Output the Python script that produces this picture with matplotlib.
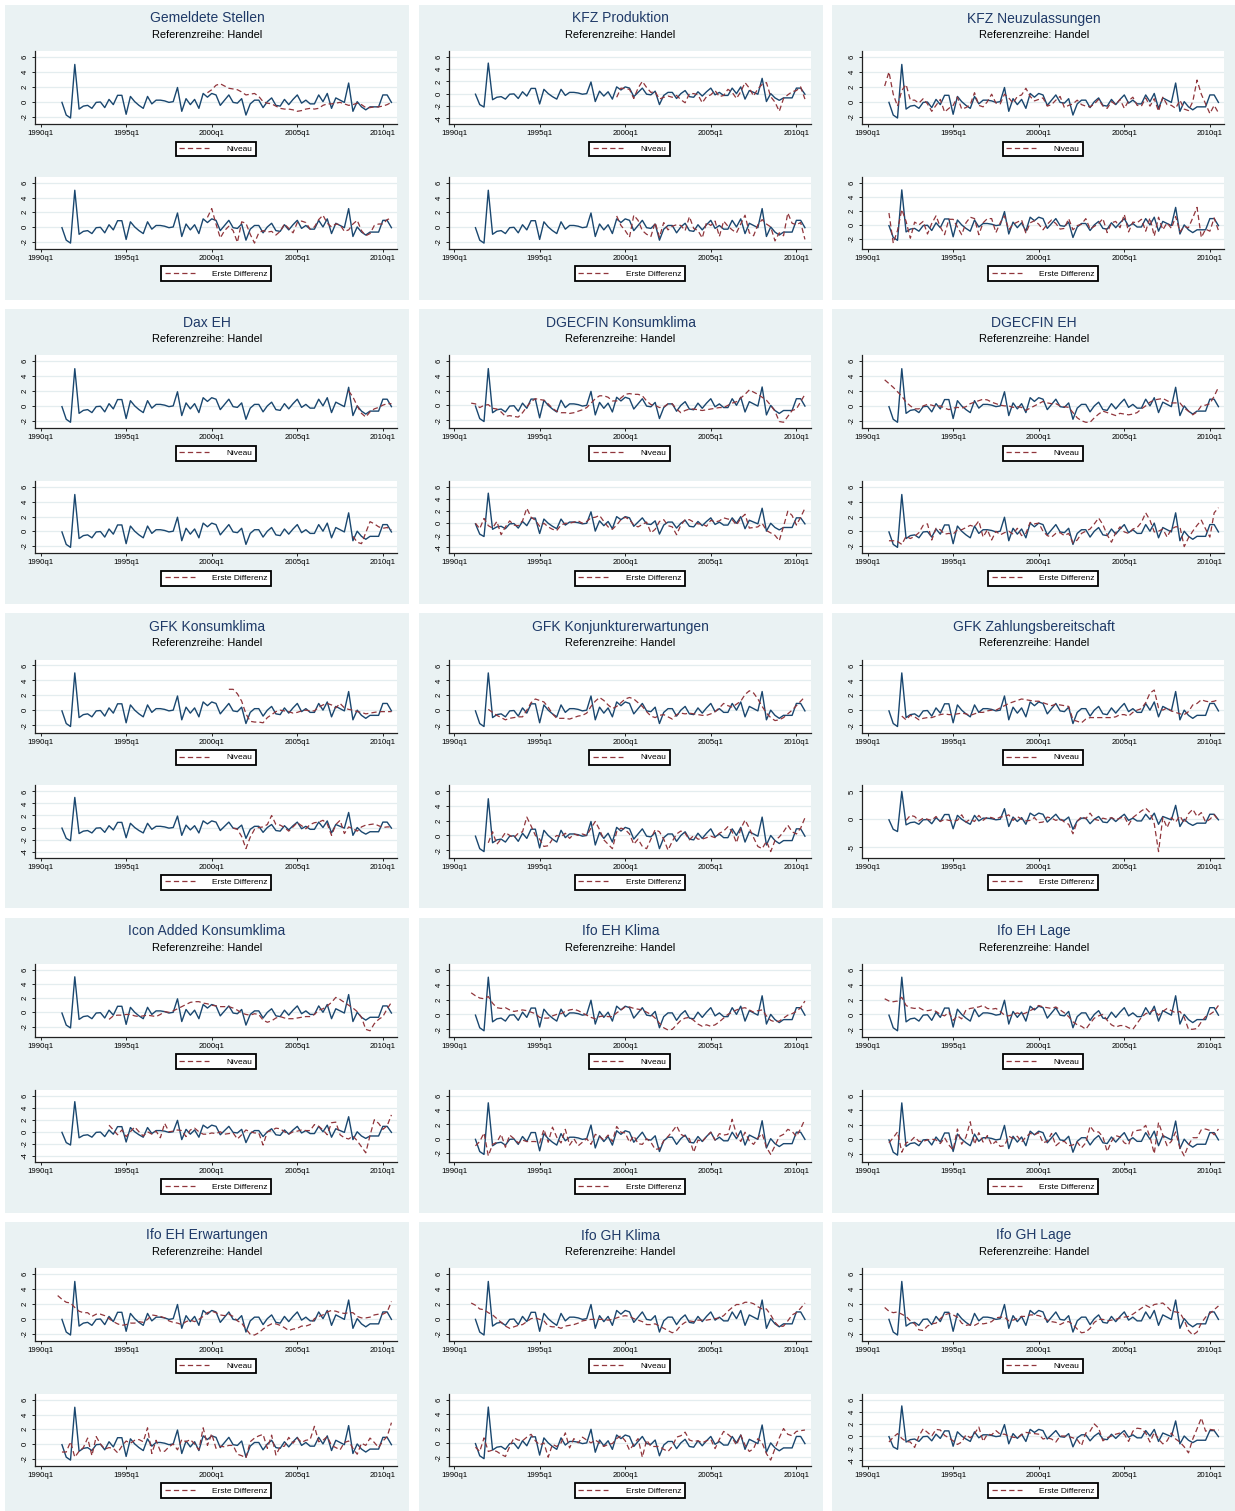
import matplotlib
matplotlib.use("Agg")
import matplotlib.pyplot as plt
from matplotlib.patches import Rectangle
from matplotlib.lines import Line2D

plt.rcParams['font.family'] = ['Liberation Sans', 'DejaVu Sans']

# ---------------- data ----------------
x_tick_labels = ["1990q1", "1995q1", "2000q1", "2005q1", "2010q1"]
subtitle = "Referenzreihe: Handel"
legend_top = "Niveau"
legend_bottom = "Erste Differenz"

handel_start = "1991q2"
handel = [-0.1, -1.8, -2.2, 5.0, -1.0, -0.6, -0.5, -0.9, -0.1, -0.05,
          -0.8, 0.3, -0.4, 0.85, 0.85, -1.7, 0.7, 0.0, -0.5, -0.9,
          0.7, -0.3, 0.2, 0.2, 0.1, -0.1, 0.0, 1.9, -1.3, 0.4,
          -0.4, 0.3, -0.9, 1.1, 0.6, 1.1, 0.9, -0.5, 0.2, 0.9,
          -0.1, -0.2, 0.4, -1.8, -0.3, 0.2, 0.2, -0.8, 0.0, 0.5,
          -0.5, -0.6, 0.3, -0.4, 0.3, 0.9, -0.2, 0.2, -0.3, -0.3,
          0.9, 0.0, 1.1, -0.9, 0.5, 0.2, -0.1, 2.5, -1.3, 0.0,
          -0.7, -1.1, -0.7, -0.7, -0.7, 0.9, 0.9, -0.1]

gem_niv_start = "1999q4"
gem_niv = [1.2, 1.6, 2.2, 2.4, 2.1, 1.8, 1.7, 1.6, 1.3, 0.9,
           1.0, 1.1, 0.7, 0.0, -0.2, -0.3, -0.6, -0.9, -1.0, -1.0,
           -1.1, -1.3, -1.2, -1.0, -0.9, -1.0, -0.9, -0.5, -0.3, -0.3,
           -0.2, -0.1, -0.3, -0.5, -0.4, -0.2, -0.4, -0.8, -0.8, -0.7,
           -0.7, -0.6, -0.4, -0.1]
gem_diff_start = "1999q4"
gem_diff = [1.3, 2.5, 0.4, -1.5, -0.5, 0.1, -0.5, -2.1, 0.7, 0.5,
            -1.0, -2.2, -0.8, -0.5, -0.7, -0.6, -1.1, -0.6, 0.4, -0.2,
            -0.8, 0.6, 0.8, 0.6, -0.3, 0.0, 1.0, 1.6, 0.5, 0.0,
            0.4, 0.3, -0.6, -0.4, 0.4, 0.9, -0.5, -1.2, -0.9, 0.2,
            0.4, 0.4, 1.0, 1.2]

kfzp_niv_start = "1999q3"
kfzp_niv = [-0.6, 0.9, 0.8, 0.7, -0.8, 0.9, 2.0, 1.0, 0.2, 0.3,
            -0.9, -0.6, -0.4, -0.6, -0.3, -1.0, -1.5, 0.0, 0.0, -0.2,
            -1.5, -0.5, -0.2, 0.5, -0.5, -0.3, 0.7, 0.2, -0.8, 0.3,
            1.8, 0.9, -0.4, 0.8, 1.5, 1.8, -0.5, -1.4, -2.9, -0.8,
            -0.2, 0.3, 0.5, 1.1, -0.9]
kfzp_diff_start = "1999q3"
kfzp_diff = [1.5, 0.2, -0.5, -1.4, 1.6, 0.9, -0.5, -1.0, -1.3, 0.6,
             -1.4, 0.6, -0.4, 0.1, 0.3, 0.2, -0.5, 1.4, -0.2, -0.5,
             -1.5, 0.6, 0.2, 0.8, -1.3, 0.8, 0.1, -0.4, -0.8, 0.4,
             1.6, -0.8, -1.2, 0.3, 1.0, 0.4, 0.0, -1.9, -0.8, -1.2,
             1.9, 0.5, 0.3, 0.6, -1.7]

kfzn_niv_start = "1991q1"
kfzn_niv = [2.1, 4.0, 1.0, -0.6, 1.5, 2.3, 0.2, 0.2, -0.2, 0.4,
            -0.3, -1.3, -0.5, 0.3, -1.4, -0.9, -0.5, 0.6, -1.0, -0.8,
            -0.4, 1.2, -0.5, -0.7, 0.0, 1.0, -0.2, -0.3, 1.0, 0.5,
            -0.2, 0.7, 0.9, 1.8, 0.7, 0.1, 0.3, 0.5, -0.6, -0.4,
            0.2, 0.7, -0.8, -0.5, -0.3, 0.2, -0.4, -0.6, -0.7, -0.3,
            0.3, -0.6, -0.9, 0.0, -0.4, 0.3, -0.9, 0.1, 0.6, -0.5,
            -0.6, 0.5, -0.6, 0.4, -1.3, 0.6, -0.4, -0.5, -0.9, 0.2,
            -1.0, -1.2, 0.0, 2.9, 1.0, -0.3, -1.6, -0.5, -1.5]
kfzn_diff_start = "1991q2"
kfzn_diff = [1.7, -2.6, -0.8, 2.2, 0.5, -1.9, 0.4, 0.0, 0.5, -1.3,
             0.2, 1.3, -0.3, -1.4, 0.8, 0.8, -0.3, -1.4, 0.3, 1.1,
             0.9, -1.4, 0.3, 0.9, 0.9, -1.1, 0.3, 1.3, -0.7, 0.1,
             0.4, 0.7, -1.2, 0.3, 0.6, 0.1, -0.7, 0.1, 0.7, 0.2,
             -0.6, -0.5, 0.9, -0.7, -0.1, 0.1, 0.9, -0.6, -0.2, 0.2,
             0.9, -1.1, 0.3, 0.5, -0.4, 1.5, -1.0, 0.4, 0.3, 0.8,
             -0.9, 1.0, -1.6, 1.1, -0.7, 0.3, -0.5, 1.2, -1.0, -0.2,
             -0.4, 1.0, 2.5, -1.8, -0.6, -0.9, 1.0, -0.8]

dax_niv_start = "2008q1"
dax_niv = [2.0, 1.2, 0.0, -1.0, -1.5, -0.8, -0.4, -0.2, 0.1, 0.3, 0.3]
dax_diff_start = "2008q2"
dax_diff = [-0.7, -1.5, -1.7, -0.2, 1.3, 1.0, 0.6, 0.4, 0.5, 0.2]

dgk_niv_start = "1991q1"
dgk_niv = [0.3, 0.2, -0.3, 0.0, 0.1, -0.4, -0.5, -0.9, -1.5, -1.4,
           -1.5, -1.6, -1.0, -0.2, 0.5, 0.9, 0.8, 0.7, 0.2, -0.4,
           -0.8, -1.0, -1.0, -1.1, -1.0, -0.8, -0.6, -0.3, 0.3, 0.9,
           1.3, 1.3, 1.1, 0.6, 0.6, 1.0, 1.5, 1.6, 1.5, 1.5,
           1.3, 0.6, 0.1, 0.0, -0.3, -0.2, 0.2, 0.2, -0.5, -1.0,
           -0.7, -0.5, -0.5, -0.6, -0.7, -0.6, -0.5, -0.4, -0.3, -0.3,
           0.0, 0.3, 0.5, 1.0, 1.5, 2.1, 1.8, 1.5, 1.1, 0.7,
           0.0, -0.8, -2.2, -2.3, -1.5, -0.7, -0.5, 0.5, 1.5]
dgk_diff_start = "1991q2"
dgk_diff = [0.0, -0.9, 0.8, -0.4, -0.8, 0.3, -1.9, -0.6, 0.4, -0.3,
            -0.4, 0.4, 2.5, 1.0, 0.5, -0.5, 0.0, -0.6, -1.0, -1.2,
            -0.3, 0.0, 0.0, 0.2, 0.4, 0.0, 0.3, 0.9, 1.0, 1.3,
            0.3, -0.6, -1.0, -0.3, 0.6, 1.0, 0.6, -0.3, -0.6, -0.2,
            0.2, -1.6, -1.0, 0.3, 0.6, -0.4, -0.6, -1.9, -0.3, 0.6,
            0.6, 0.2, -0.1, -0.1, -0.5, 0.5, 0.2, 0.4, 0.9, 0.7,
            0.6, -0.3, 0.8, 1.5, -0.8, -0.7, -0.6, 0.0, -1.2, -1.6,
            -2.0, -2.9, -0.5, 2.0, 1.3, -0.3, 1.0, 2.5]

dge_niv_start = "1991q1"
dge_niv = [3.5, 3.0, 2.5, 1.9, 1.3, 0.5, 0.0, -0.4, -0.4, 0.0,
           0.2, 0.1, -0.1, 0.0, -0.3, -0.5, -0.3, -0.2, -0.3, -0.1,
           0.3, 0.5, 0.7, 0.9, 0.8, 0.5, 0.3, 0.1, 0.0, 0.0,
           -0.2, -0.1, -0.2, -0.6, -0.3, 0.0, 0.3, 0.6, 0.4, 0.3,
           0.3, 0.0, -0.1, -0.2, -0.9, -1.6, -2.0, -2.2, -2.2, -1.6,
           -1.1, -0.7, -0.9, -1.1, -1.3, -1.0, -1.1, -1.2, -1.1, -0.9,
           -0.4, 0.0, 0.5, 0.8, 0.9, 1.0, 0.7, 0.4, 0.4, 0.4,
           -0.3, -0.7, -1.2, -0.8, 0.0, 0.1, 0.3, 1.3, 2.5]
dge_diff_start = "1991q2"
dge_diff = [-1.3, -1.3, -1.4, -1.8, -0.7, -1.0, -0.7, -0.2, 0.8, 1.0,
            -1.2, 0.4, 0.2, -0.4, -0.3, -0.4, 0.2, 0.2, 0.5, 0.8,
            0.6, 1.4, -0.8, 0.2, -1.2, 0.0, -0.5, -0.2, 0.0, -0.4,
            0.4, -0.6, -0.3, 1.2, 1.0, 1.1, 0.0, -0.6, -0.8, -0.3,
            -0.2, -0.6, -0.3, -1.6, -1.2, -0.3, 0.0, 0.3, 1.0, 1.8,
            0.9, -0.5, -1.5, -0.2, 0.6, -0.1, -0.3, 0.3, 0.5, 1.2,
            2.5, 1.5, -0.1, 0.0, 0.3, -0.8, 0.3, 0.6, 0.6, -2.1,
            -0.9, 0.0, 0.8, 1.5, 0.3, -0.8, 2.5, 3.2]

gfkk_niv_start = "2001q1"
gfkk_niv = [2.8, 2.8, 2.2, 1.2, -0.5, -1.5, -1.6, -1.6, -1.7, -1.0,
            -0.6, -0.2, 0.0, -0.1, -0.2, -0.4, -0.3, -0.1, 0.0, -0.1,
            -0.1, 0.4, 0.7, 0.9, 0.7, 0.3, 0.9, 0.3, 0.1, 0.0,
            -0.2, -0.3, -0.5, -0.4, -0.3, -0.2, -0.2, -0.2, -0.2]
gfkk_diff_start = "2001q2"
gfkk_diff = [-0.1, -0.3, -1.5, -3.5, -1.6, -0.3, 0.0, 0.1, 0.5, 2.0,
             0.5, 0.4, 0.0, -0.6, 0.1, 0.8, 0.3, -0.2, 0.5, 0.8,
             0.9, 1.2, 0.6, -1.3, 0.5, 1.2, -1.0, 0.1, -0.2, -0.6,
             0.1, 0.4, 0.5, 0.6, 0.3, 0.0, 0.1, 0.1]

gfkj_niv_start = "1992q1"
gfkj_niv = [0.1, -0.3, -0.7, -1.0, -1.3, -1.1, -1.0, -0.9, -0.9, 0.0,
            1.0, 1.5, 1.3, 1.1, 0.4, -0.5, -1.1, -1.1, -1.1, -1.2,
            -1.0, -0.8, -0.7, -0.4, 0.5, 1.2, 1.7, 1.3, 0.7, 0.2,
            0.5, 1.0, 1.5, 1.7, 1.5, 1.0, 0.5, -0.2, -0.8, -1.0,
            -0.7, -0.6, -0.9, -1.2, -0.6, -0.4, -0.5, -0.4, -0.5, -0.6,
            -0.7, -0.7, -0.5, -0.2, 0.3, 0.9, 0.6, 0.4, 0.8, 1.2,
            2.1, 2.6, 2.3, 1.5, 0.5, -0.4, -1.0, -1.4, -1.3, -1.0,
            -0.5, 0.0, 0.6, 1.2, 1.8]
gfkj_diff_start = "1992q1"
gfkj_diff = [-1.0, 0.5, -1.2, -0.5, 0.4, 0.0, -0.3, 0.3, 0.5, 2.5,
             1.3, 0.0, -0.5, -1.5, -1.4, -0.5, 0.0, -0.2, 0.3, -0.4,
             0.2, 0.0, 0.2, 0.0, 1.0, 1.9, 0.8, -0.6, -1.2, -1.8,
             0.5, 1.0, 0.8, 0.2, -1.2, -0.5, -1.5, -1.8, -0.5, 0.8,
             0.5, -0.5, -2.0, -0.8, 0.2, 0.6, 0.3, -0.6, 0.0, -0.5,
             -0.5, -0.3, -0.1, -0.3, 0.3, 0.6, 1.2, 0.5, -1.0, 0.9,
             2.1, 1.0, -0.3, -1.5, -1.8, -0.8, -2.2, -0.7, -0.2, 0.5,
             1.4, 0.5, 0.2, 1.0, 2.4]

gfkz_niv_start = "1992q1"
gfkz_niv = [-0.8, -1.3, -0.7, -0.9, -1.3, -1.1, -1.0, -1.0, -0.8, -0.6,
            -0.5, -0.6, -0.6, -0.5, -0.4, -0.5, -0.7, -0.5, -0.3, -0.3,
            -0.1, 0.0, 0.0, 0.3, 0.6, 0.9, 1.1, 1.3, 1.5, 1.4,
            1.3, 1.2, 1.2, 1.0, 0.8, 0.6, 0.8, 0.7, 0.6, 0.5,
            -1.3, -1.5, -1.7, -1.2, -1.0, -1.0, -1.0, -1.0, -1.0, -1.0,
            -0.9, -0.6, -0.6, -0.8, -0.3, 0.0, 0.2, 1.0, 2.3, 2.7,
            0.3, 0.0, 0.3, -0.1, -0.3, -0.5, -0.6, -0.2, 0.7, 0.9,
            1.4, 1.2, 1.1, 1.2, 1.4]
gfkz_diff_start = "1992q2"
gfkz_diff = [-0.2, 0.7, 0.5, -0.3, 0.2, 0.0, -0.2, 0.5, -0.4, 0.0,
             -0.2, -0.3, -0.2, 0.8, -0.5, 0.0, -0.4, 0.7, -0.2, 0.4,
             0.3, 0.0, 0.4, 0.5, 0.8, -0.2, 0.5, 0.0, -0.3, -0.2,
             0.3, -0.6, -0.5, 0.4, 0.2, -0.2, 0.1, -0.5, -0.9, -2.6,
             -0.4, 0.5, 0.1, 1.1, 0.0, -0.2, 0.2, 0.0, 0.3, -0.1,
             0.2, 0.5, -1.0, 0.3, 0.9, 1.5, 2.0, 1.2, -0.8, -5.8,
             0.3, -1.5, 0.3, -0.5, 0.6, -0.7, 1.0, 1.8, 0.5, 1.2,
             -0.5, 0.0, 0.8, -0.2]

icon_niv_start = "1994q1"
icon_niv = [-1.0, -0.5, -0.4, -0.4, -0.3, -0.3, -0.5, -0.6, -0.5, -0.4,
            -0.5, -0.6, -0.3, 0.1, 0.0, 0.2, 0.5, 0.8, 1.1, 1.4,
            1.5, 1.5, 1.3, 1.2, 1.0, 0.9, 0.8, 0.8, 0.8, 0.6,
            0.3, -0.1, -0.3, -0.4, -0.2, -0.3, -1.1, -1.4, -1.2, -0.8,
            -0.6, -0.8, -0.9, -0.9, -0.8, -0.7, -0.6, -0.6, -0.3, 0.3,
            0.5, 0.9, 1.4, 2.1, 1.8, 1.4, 1.0, 0.6, 0.1, -0.7,
            -2.4, -2.6, -1.6, -1.0, -0.6, 0.5, 1.4]
icon_diff_start = "1994q1"
icon_diff = [1.1, 0.3, -0.5, 0.3, -0.8, 0.0, 0.8, 0.0, -0.7, 0.0,
             -0.4, 0.1, -1.0, 1.4, 0.0, 0.1, 0.3, 0.2, -0.8, 0.3,
             0.6, 0.0, -0.4, -0.4, -0.2, -0.3, 0.0, -0.4, -0.3, -0.2,
             -1.2, -0.5, 0.3, 0.0, -0.2, -0.2, -2.2, 0.0, 0.2, 0.6,
             0.5, 0.0, -0.4, 0.0, 0.1, 0.3, 0.2, 0.2, 1.2, 0.9,
             0.3, -0.5, 1.5, 1.6, -0.5, -1.0, -1.2, -0.7, -1.5, -2.5,
             -3.5, -0.6, 2.0, 1.4, 0.4, 1.0, 2.8]

ifoekl_niv_start = "1991q1"
ifoekl_niv = [2.9, 2.5, 2.2, 2.1, 2.4, 1.5, 0.9, 0.8, 0.9, 0.6,
              0.4, 0.5, 0.6, 0.5, 0.3, 0.1, -0.4, -0.5, -0.5, -0.2,
              0.0, 0.1, 0.4, 0.6, 0.7, 0.5, 0.2, -0.1, -0.4, -0.6,
              -0.3, -0.2, -0.3, -0.3, 0.2, 0.6, 1.0, 1.0, 0.8, 0.7,
              0.6, 0.3, 0.0, -0.5, -1.2, -1.8, -2.1, -2.0, -1.4, -0.8,
              -0.5, -0.4, -0.8, -1.3, -1.6, -1.4, -1.6, -1.4, -1.0, -0.5,
              0.0, 0.3, 0.6, 0.8, 0.9, 0.6, 0.3, 0.5, 0.6, -0.2,
              -0.8, -1.0, -0.9, -0.5, -0.1, 0.1, 0.4, 0.9, 1.8]
ifoekl_diff_start = "1991q2"
ifoekl_diff = [-1.0, -0.4, 0.8, -2.4, -0.8, -0.5, 0.6, -1.2, 0.5, 0.0,
               -0.6, -0.2, -0.4, -0.4, -0.4, -0.6, 1.3, -0.5, 1.6, 0.2,
               -0.6, 1.3, -0.9, 0.0, -1.0, -0.5, 0.0, -0.8, 0.6, 0.3,
               -0.2, 0.5, -0.4, 1.7, 0.9, 0.8, -0.5, 0.4, -0.7, -0.8,
               0.0, -0.5, -1.5, -1.4, -0.3, 0.3, 1.0, 1.8, 0.6, 0.3,
               0.0, -1.9, -0.2, -0.4, 0.3, 0.9, -0.2, 0.7, 0.5, 0.6,
               2.7, 0.6, -0.4, 0.9, -0.3, -0.8, 0.1, 0.7, -1.2, -2.2,
               -1.0, 0.3, 0.6, 1.3, 1.0, 0.3, 1.4, 2.7]

ifoela_niv_start = "1991q1"
ifoela_niv = [2.1, 1.8, 1.7, 1.8, 2.3, 1.2, 0.9, 0.8, 0.9, 0.6,
              0.5, 0.6, 0.4, 0.0, -0.2, 0.3, -0.8, -0.2, -0.6, 0.6,
              0.8, 0.9, 1.0, 1.2, 0.8, 0.7, 0.8, 0.4, -0.1, -0.2,
              0.0, 0.2, 0.0, 0.2, 0.5, 0.8, 1.2, 1.0, 0.9, 0.8,
              1.0, 0.6, 0.2, -0.3, -1.0, -1.4, -1.6, -2.0, -1.2, -0.5,
              -0.2, 0.0, -0.8, -1.4, -1.7, -1.5, -1.5, -1.8, -2.0, -1.2,
              -0.4, 0.1, 0.3, 0.6, -0.1, 0.4, 0.8, 0.5, 0.2, 0.4,
              -0.4, -2.0, -2.0, -1.9, -1.0, -0.3, 0.0, 0.4, 1.2]
ifoela_diff_start = "1991q2"
ifoela_diff = [-0.5, 0.2, 1.0, -1.8, -0.5, -0.3, 0.3, -0.3, -0.3, -0.1,
               0.0, -0.1, -0.6, 0.2, -0.8, -1.5, 1.4, -0.7, 0.3, 2.4,
               -0.7, 0.9, -0.4, 0.5, -0.8, -0.3, -1.0, -0.9, 0.4, 0.1,
               0.4, -0.4, 0.3, 0.8, 0.6, 0.9, -0.5, -0.3, 0.8, -0.9,
               -0.4, -0.3, -0.9, -0.8, -0.4, -1.2, -0.5, 1.8, 1.0, 1.0,
               0.3, -1.7, -0.3, 0.5, 0.3, -0.5, -0.8, 1.0, 1.2, 1.3,
               1.9, 0.3, -2.0, 2.3, 0.6, -0.9, -0.3, 1.0, -1.2, -2.3,
               -0.8, 0.2, 0.2, 1.3, 1.4, 1.2, 0.6, 1.4]

ifoeer_niv_start = "1991q1"
ifoeer_niv = [3.1, 2.6, 2.2, 2.1, 1.5, 1.0, 0.8, 0.8, 0.3, 0.6,
              0.6, 0.4, 0.0, -0.4, -0.7, -0.9, -0.8, -0.6, -0.6, -0.4,
              -0.5, -0.1, 0.5, 0.4, 0.3, 0.1, -0.3, -0.5, -0.6, -0.8,
              -0.4, -0.2, -0.4, -0.1, 0.3, 0.8, 1.0, 0.8, 0.5, 0.4,
              0.6, 0.3, -0.3, -0.6, -1.4, -2.1, -2.2, -1.9, -1.4, -1.0,
              -0.7, -0.7, -0.9, -1.2, -1.6, -1.4, -1.3, -1.0, -1.0, -0.8,
              0.0, 0.3, 0.5, 0.9, 1.1, 1.0, 0.8, 0.7, 0.8, 0.8,
              0.3, 0.1, 0.1, 0.2, 0.5, 0.6, 0.6, 0.9, 2.3]
ifoeer_diff_start = "1991q2"
ifoeer_diff = [-1.1, -1.1, 0.3, -1.8, -1.0, -0.5, 0.8, -1.6, 1.0, 0.0,
               -0.7, -0.5, -0.6, -1.2, -0.3, 0.4, 0.1, 0.5, 0.6, 0.3,
               2.2, -1.3, 0.5, -1.0, -1.0, -0.4, 0.0, -0.8, 0.6, 0.3,
               0.6, 0.0, -0.8, 2.2, -0.2, 1.4, -0.6, -0.3, -0.4, -0.2,
               -0.2, -1.4, -1.6, -1.9, 0.3, 0.8, 1.1, 1.3, -0.6, 1.2,
               -1.5, -0.4, -0.3, 0.9, 0.1, 0.8, 0.2, 0.5, 0.6, 2.4,
               0.3, 0.5, 1.0, -0.2, -0.5, -0.8, 0.2, 0.4, -0.6, -1.4,
               0.1, -0.2, 0.8, 0.2, -0.5, 0.4, 1.0, 2.9]

ifoghk_niv_start = "1991q1"
ifoghk_niv = [2.1, 1.8, 1.3, 1.2, 0.8, 0.5, 0.0, -0.5, -1.0, -1.3,
              -1.1, -0.9, -0.8, -0.4, 0.0, 0.1, -0.1, -0.3, -1.0, -1.1,
              -1.1, -1.3, -1.0, -0.9, -0.8, -0.6, -0.3, -0.2, -0.1, -0.1,
              -0.1, -0.1, -0.2, -0.1, 0.1, 0.3, 0.4, 0.3, 0.0, -0.2,
              -0.4, -0.8, -0.8, -0.7, -1.0, -1.3, -1.6, -1.9, -1.6, -0.9,
              -0.5, -0.3, -0.4, -0.2, -0.2, -0.2, -0.1, 0.0, 0.1, 0.4,
              1.0, 1.5, 1.9, 1.9, 2.2, 2.2, 2.0, 1.6, 1.3, 1.3,
              0.5, -0.5, -1.1, -1.0, -0.3, 0.5, 0.8, 1.4, 2.1]
ifoghk_diff_start = "1991q2"
ifoghk_diff = [-0.6, -1.2, 0.7, -1.2, -1.0, -1.2, -1.6, -1.9, -0.5, 0.7,
               0.4, 0.3, 0.8, 1.2, 0.3, -0.3, 0.0, -2.0, -0.2, -0.5,
               0.0, 1.4, -0.7, 0.6, 0.0, 0.8, 0.4, 0.0, 0.4, 0.0,
               -0.5, -0.2, -0.1, 0.6, 1.0, 0.3, -1.0, -0.2, 0.6, -2.0,
               0.4, -0.5, -0.5, -0.5, -0.9, -1.2, -0.5, 0.8, 1.0, 1.5,
               0.4, 0.2, 0.3, 0.0, 0.3, 0.5, -0.8, 0.5, 1.6, 1.2,
               0.7, -0.3, 1.1, -0.3, -1.2, -0.8, 0.6, 0.0, -1.5, -2.4,
               -0.8, 0.7, 2.0, 1.2, 1.0, 1.6, 1.7, 1.8]

ifoghl_niv_start = "1991q1"
ifoghl_niv = [1.5, 1.0, 0.8, 0.9, 0.6, 0.3, -0.3, -0.7, -1.5, -1.6,
              -1.0, -0.7, -0.6, 0.0, 0.5, 0.7, 0.5, 0.2, -0.6, -0.9,
              -0.8, -0.9, -0.6, -0.7, -0.6, -0.4, 0.1, 0.2, 0.2, -0.3,
              -0.2, 0.0, 0.3, 0.3, 0.5, 0.5, 0.4, 0.2, -0.2, -0.4,
              -0.5, -0.8, -0.5, -0.4, -0.8, -1.4, -1.9, -1.8, -1.3, -0.5,
              -0.1, -0.1, -0.3, -0.2, -0.1, 0.1, 0.2, 0.3, 0.6, 1.0,
              1.4, 1.8, 1.5, 1.9, 2.0, 2.1, 1.6, 1.0, 0.9, 0.8,
              -0.2, -1.6, -2.2, -1.8, -0.6, 0.2, 0.7, 1.2, 1.7]
ifoghl_diff_start = "1991q2"
ifoghl_diff = [-1.0, -0.2, 0.4, -0.4, -0.9, -1.0, -1.9, 0.0, 1.2, 0.6,
               0.0, 1.1, 1.0, 0.1, -0.3, -0.8, -1.4, -1.0, 0.2, -0.3,
               0.4, 1.5, -0.9, 0.3, 0.2, 0.9, 0.3, 0.3, 0.0, -0.2,
               -0.3, 0.2, 0.6, 0.5, 0.4, 0.3, -0.5, -0.3, -0.5, -1.0,
               0.0, 0.0, -0.1, -0.3, -0.6, -1.6, 0.5, 0.8, 2.0, 1.3,
               -0.8, -0.3, 0.0, 0.3, 0.5, 0.3, -0.9, 0.8, 1.3, 1.2,
               0.5, -1.0, 0.6, -0.5, -1.3, -0.8, 0.5, -0.5, -1.0, -1.8,
               -2.8, -0.5, 1.2, 3.0, 0.8, 1.1, 1.0, 1.0]

panel_titles = ["Gemeldete Stellen", "KFZ Produktion", "KFZ Neuzulassungen",
                "Dax EH", "DGECFIN Konsumklima", "DGECFIN EH",
                "GFK Konsumklima", "GFK Konjunkturerwartungen", "GFK Zahlungsbereitschaft",
                "Icon Added Konsumklima", "Ifo EH Klima", "Ifo EH Lage",
                "Ifo EH Erwartungen", "Ifo GH Klima", "Ifo GH Lage"]

niveau_series = [(gem_niv_start, gem_niv), (kfzp_niv_start, kfzp_niv), (kfzn_niv_start, kfzn_niv),
                 (dax_niv_start, dax_niv), (dgk_niv_start, dgk_niv), (dge_niv_start, dge_niv),
                 (gfkk_niv_start, gfkk_niv), (gfkj_niv_start, gfkj_niv), (gfkz_niv_start, gfkz_niv),
                 (icon_niv_start, icon_niv), (ifoekl_niv_start, ifoekl_niv), (ifoela_niv_start, ifoela_niv),
                 (ifoeer_niv_start, ifoeer_niv), (ifoghk_niv_start, ifoghk_niv), (ifoghl_niv_start, ifoghl_niv)]
diff_series = [(gem_diff_start, gem_diff), (kfzp_diff_start, kfzp_diff), (kfzn_diff_start, kfzn_diff),
               (dax_diff_start, dax_diff), (dgk_diff_start, dgk_diff), (dge_diff_start, dge_diff),
               (gfkk_diff_start, gfkk_diff), (gfkj_diff_start, gfkj_diff), (gfkz_diff_start, gfkz_diff),
               (icon_diff_start, icon_diff), (ifoekl_diff_start, ifoekl_diff), (ifoela_diff_start, ifoela_diff),
               (ifoeer_diff_start, ifoeer_diff), (ifoghk_diff_start, ifoghk_diff), (ifoghl_diff_start, ifoghl_diff)]

ticks_a = [-2, 0, 2, 4, 6]
ticks_b = [-4, -2, 0, 2, 4, 6]
ticks_c = [-5, 0, 5]
yticks_top = [ticks_a, ticks_b, ticks_a, ticks_a, ticks_a, ticks_a, ticks_a, ticks_a,
              ticks_a, ticks_a, ticks_a, ticks_a, ticks_a, ticks_a, ticks_a]
yticks_bottom = [ticks_a, ticks_a, ticks_a, ticks_a, ticks_b, ticks_a, ticks_b, ticks_a,
                 ticks_c, ticks_b, ticks_a, ticks_a, ticks_a, ticks_a, ticks_b]

# ---------------- style ----------------
BLUE = "#1A476F"
RED = "#90353B"
BG = "#EAF2F3"
GRID = "#E4EDEF"
TITLE_C = "#1F3A68"

W, H = 1235, 1511
fig = plt.figure(figsize=(W / 100, H / 100), dpi=100)
fig.patch.set_facecolor("white")


def qidx(s):
    y, q = s.split("q")
    return (int(y) - 1990) * 4 + int(q) - 1


def xs(start, vals):
    s = qidx(start)
    return [s + i for i in range(len(vals))]


col_x0 = [5, 418.5, 832]
row_y0 = [5 + r * 304.25 for r in range(5)]
PW, PH = 404, 295


def fax(px, py, pw, ph):
    return [px / W, 1 - (py + ph) / H, pw / W, ph / H]


def draw_sub(ax, red_start, red_vals, ticks, label):
    hx = xs(handel_start, handel)
    rx = xs(red_start, red_vals)
    ax.plot(hx, handel, color=BLUE, lw=1.0, zorder=3)
    ln, = ax.plot(rx, red_vals, color=RED, lw=0.9, zorder=4)
    ln.set_dashes([4.2, 2.5])
    lo = min(ticks[0], min(handel), min(red_vals))
    hi = max(ticks[-1], max(handel), max(red_vals))
    m = 0.098 * (hi - lo)
    ax.set_ylim(lo - m, hi + m)
    ax.set_xlim(-1.3, 83.3)
    ax.set_yticks(ticks)
    ax.set_yticklabels([str(t) for t in ticks], rotation=90, va="center")
    ax.set_xticks([qidx(t) for t in x_tick_labels])
    ax.set_xticklabels(x_tick_labels)
    ax.tick_params(axis="both", labelsize=5.6, length=2.4, width=0.6, pad=2, direction="out")
    ax.yaxis.grid(True, color=GRID, lw=0.9)
    ax.set_axisbelow(True)
    for s in ["top", "right"]:
        ax.spines[s].set_visible(False)
    for s in ["left", "bottom"]:
        ax.spines[s].set_linewidth(0.9)
        ax.spines[s].set_color("#222222")
    ax.set_facecolor("white")
    h = Line2D([], [], color=RED, lw=0.9)
    h.set_dashes([4.2, 2.5])
    leg = ax.legend([h], [label], loc="upper center", bbox_to_anchor=(0.5, -0.242),
                    fontsize=6.0, handlelength=3.6, handletextpad=2.1, borderpad=0.42,
                    borderaxespad=0.0, frameon=True, fancybox=False, edgecolor="black",
                    framealpha=1)
    leg.get_frame().set_linewidth(1.3)


for i, title in enumerate(panel_titles):
    r, c = divmod(i, 3)
    ox, oy = col_x0[c], row_y0[r]
    fig.patches.append(Rectangle((ox / W, 1 - (oy + PH) / H), PW / W, PH / H,
                                 transform=fig.transFigure, facecolor=BG, edgecolor="none", zorder=-5))
    fig.text((ox + PW / 2) / W, 1 - (oy + 13.5) / H, title, ha="center", va="center",
             fontsize=10, color=TITLE_C)
    fig.text((ox + PW / 2) / W, 1 - (oy + 30) / H, subtitle, ha="center", va="center",
             fontsize=7.9, color="black")
    ax1 = fig.add_axes(fax(ox + 30, oy + 46, 362, 73))
    draw_sub(ax1, niveau_series[i][0], niveau_series[i][1], yticks_top[i], legend_top)
    ax2 = fig.add_axes(fax(ox + 30, oy + 172, 362, 72))
    draw_sub(ax2, diff_series[i][0], diff_series[i][1], yticks_bottom[i], legend_bottom)

fig.savefig("out.png", dpi=100, facecolor="white")
